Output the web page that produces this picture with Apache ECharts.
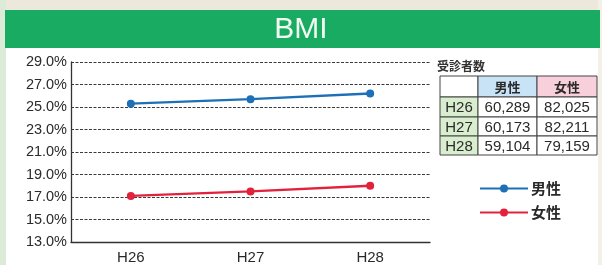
<!DOCTYPE html>
<html><head><meta charset="utf-8">
<script src="https://cdn.jsdelivr.net/npm/echarts@6/dist/echarts.min.js"></script>
<style>html,body{margin:0;padding:0;background:#fff}#c{width:602px;height:265px}</style>
</head><body><div id="c"></div>
<script>
const categories = ['H26', 'H27', 'H28'];
const maleBMI = [25.3, 25.7, 26.2];
const femaleBMI = [17.1, 17.5, 18.0];
const yTicks = {min: 13, max: 29, interval: 2};
const tableTitle = '受診者数';
const tableHeader = ['', '男性', '女性'];
const maleCount = ['60,289', '60,173', '59,104'];
const femaleCount = ['82,025', '82,211', '79,159'];

const chart = echarts.init(document.getElementById('c'));
const font = '"Liberation Sans", Arial, sans-serif';
const cjk = '"Noto Sans CJK JP", sans-serif';

// table graphics
const colX = [440, 478, 537, 597];
const rowY = [76, 97, 117, 136, 155];
const headFill = ['#ffffff', '#c9e3f6', '#f8d0dc'];
const tbl = [];
tbl.push({type:'text', left:437, top:60, style:{text:tableTitle, font:'bold 12px ' + cjk, fill:'#333'}});
for (let r = 0; r < 4; r++) {
  for (let c = 0; c < 3; c++) {
    let fill = '#fff';
    let txt = '';
    if (r === 0) { fill = headFill[c]; txt = tableHeader[c]; }
    else if (c === 0) { fill = '#d9edcf'; txt = categories[r-1]; }
    else { txt = c === 1 ? maleCount[r-1] : femaleCount[r-1]; }
    const x0 = colX[c], x1 = colX[c+1], y0 = rowY[r], y1 = rowY[r+1];
    tbl.push({type:'rect', shape:{x:x0, y:y0, width:x1-x0, height:y1-y0},
      style:{fill:fill, stroke:'#444', lineWidth:1}});
    if (txt) {
      tbl.push({type:'text', x:(x0+x1)/2, y:(y0+y1)/2+1,
        style:{text:txt, font:(r===0 ? 'bold 13px ' + cjk : '15px ' + font), fill:'#2a2a2a',
          align:'center', verticalAlign:'middle'}});
    }
  }
}

chart.setOption({
  animation: false,
  backgroundColor: '#ffffff',
  graphic: [
    {type:'rect', shape:{x:0, y:0, width:602, height:10}, style:{fill:'#ece9dc'}},
    {type:'rect', shape:{x:0, y:0, width:6, height:265}, style:{fill:'#dcebd7'}},
    {type:'rect', shape:{x:598, y:0, width:4, height:265}, style:{fill:'#f3f1e6'}},
    {type:'rect', shape:{x:5, y:10, width:595, height:38}, style:{fill:'#1aab63'}},
    {type:'text', x:301, y:30, style:{text:'BMI', font:'30px ' + font, fill:'#f2fbf2', align:'center', verticalAlign:'middle'}},
    ...tbl
  ],
  legend: {
    orient: 'vertical', left: 474, top: 176, itemGap: 9,
    itemWidth: 48, itemHeight: 10,
    textStyle: {fontFamily: cjk, fontSize: 15, fontWeight: 'bold', color: '#2a2a2a', padding:[0,0,0,-2]},
    data: ['男性', '女性']
  },
  grid: {left: 71, right: 172, top: 62, bottom: 23},
  xAxis: {
    type: 'category', data: categories, boundaryGap: true,
    axisLine: {lineStyle: {color: '#333', width: 1.3}},
    axisTick: {inside: true, length: 5, lineStyle: {color: '#333'}},
    axisLabel: {color: '#2a2a2a', fontFamily: font, fontSize: 15, margin: 8},
  },
  yAxis: {
    type: 'value', min: yTicks.min, max: yTicks.max, interval: yTicks.interval,
    axisLine: {show: true, lineStyle: {color: '#333', width: 1.3}},
    axisTick: {show: false},
    axisLabel: {color: '#2a2a2a', fontFamily: font, fontSize: 14.5, margin: 4,
      formatter: v => v.toFixed(1) + '%'},
    splitLine: {lineStyle: {color: '#3a3a3a', type: [3, 1.5], width: 1.1}}
  },
  series: [
    {name: '男性', type: 'line', data: maleBMI, symbol: 'circle', symbolSize: 8,
      lineStyle: {color: '#1d6fb8', width: 2.5}, itemStyle: {color: '#1d6fb8'}},
    {name: '女性', type: 'line', data: femaleBMI, symbol: 'circle', symbolSize: 8,
      lineStyle: {color: '#e2223c', width: 2.5}, itemStyle: {color: '#e2223c'}}
  ]
});
</script></body></html>
